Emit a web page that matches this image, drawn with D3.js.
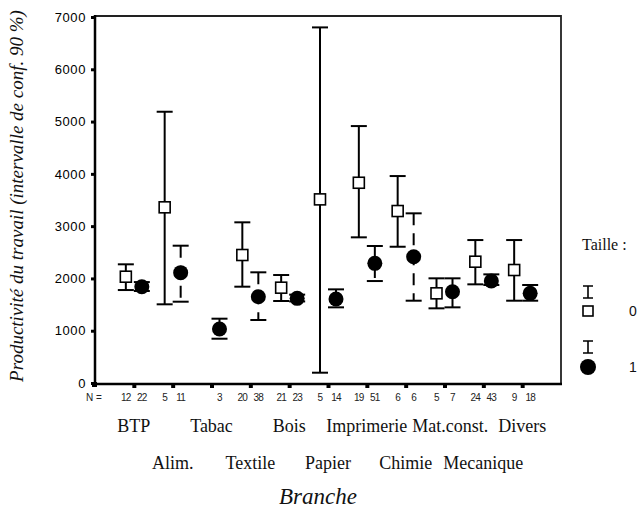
<!DOCTYPE html>
<html>
<head>
<meta charset="utf-8">
<script src="https://cdn.jsdelivr.net/npm/d3@7"></script>
<style>
    body { margin: 0; background: #fff; }
    svg { display: block; }
</style>
</head>
<body>
<div id="chart"></div>
<script>
// categories (branches) in axis order
const categories = ["BTP", "Alim.", "Tabac", "Textile", "Bois", "Papier",
    "Imprimerie", "Chimie", "Mat.const.", "Mecanique", "Divers"];

// Taille = 0 (squares) : mean and 90% CI
const mean0 = [2033, 3360, null, 2448, 1823, 3512, 3830, 3289, 1715, 2320, 2161];
const low0 = [1778, 1505, null, 1842, 1568, 197, 2786, 2606, 1428, 1887, 1574];
const high0 = [2270, 5188, null, 3073, 2065, 6801, 4914, 3958, 2002, 2734, 2734];
const n0 = [12, 5, null, 20, 21, 5, 19, 6, 5, 24, 9];

// Taille = 1 (filled circles)
const mean1 = [1842, 2110, 1033, 1650, 1619, 1606, 2288, 2415, 1746, 1950, 1715];
const low1 = [1760, 1555, 847, 1205, 1560, 1447, 1950, 1574, 1447, 1874, 1574];
const high1 = [1930, 2626, 1230, 2117, 1690, 1791, 2620, 3245, 2002, 2078, 1874];
const n1 = [22, 11, 3, 38, 23, 14, 51, 6, 7, 43, 18];

const yTicks = [0, 1000, 2000, 3000, 4000, 5000, 6000, 7000];
const groupLabels = ["0", "1"];

const width = 637, height = 514;
const plot = { left: 95, right: 561, top: 17, bottom: 383 };
const serif = "'Liberation Serif', 'Times New Roman', serif";
const sans = "'Liberation Sans', Arial, sans-serif";

const svg = d3.select("#chart").append("svg")
    .attr("width", width)
    .attr("height", height);

const x = d3.scalePoint()
    .domain(categories)
    .range([plot.left, plot.right])
    .padding(1);

const y = d3.scaleLinear()
    .domain([0, 7000])
    .range([plot.bottom, plot.top]);

const offset = [-8, 8];

// build rows for each group
function rows(g, mean, low, high, n) {
    return categories.map((c, i) => ({
        cat: c, g: g, mean: mean[i], low: low[i], high: high[i], n: n[i]
    })).filter(d => d.mean != null);
}
const groups = [
    rows(0, mean0, low0, high0, n0),
    rows(1, mean1, low1, high1, n1)
];

// frame: top and right border
svg.append("path")
    .attr("d", `M${plot.left},${plot.top - 1}H${plot.right}V${plot.bottom + 1}`)
    .attr("fill", "none")
    .attr("stroke", "#222")
    .attr("stroke-width", 1.8);

// y axis
const yAxis = svg.append("g")
    .attr("transform", `translate(${plot.left},0)`)
    .call(d3.axisLeft(y).tickValues(yTicks).tickSize(4).tickPadding(5)
        .tickFormat(d3.format("d")));
yAxis.select(".domain").remove();
yAxis.selectAll(".tick line").attr("stroke", "#000").attr("stroke-width", 3);
yAxis.selectAll(".tick text")
    .attr("font-family", sans)
    .attr("font-size", 13)
    .attr("letter-spacing", 0.6)
    .attr("fill", "#000");

// x axis
const xAxis = svg.append("g")
    .attr("transform", `translate(0,${plot.bottom})`)
    .call(d3.axisBottom(x).tickSize(4).tickFormat(""));
xAxis.select(".domain").remove();
xAxis.selectAll(".tick line").attr("stroke", "#000").attr("stroke-width", 4)
    .attr("y1", 1).attr("y2", 5);

// axis lines
svg.append("path")
    .attr("d", `M${plot.left},${plot.top - 2}V${plot.bottom + 1}H${plot.right + 1}`)
    .attr("fill", "none")
    .attr("stroke", "#000")
    .attr("stroke-width", 2.5);
svg.append("rect")
    .attr("x", plot.left - 3).attr("y", plot.bottom - 1)
    .attr("width", 5).attr("height", 5)
    .attr("fill", "#000");

// error bars
groups.forEach(function (data, g) {
    const gx = d => x(d.cat) + offset[g];
    const bars = svg.append("g").attr("class", "bars-" + g);
    bars.selectAll("line.stem")
        .data(data)
        .enter()
        .append("line")
        .attr("class", "stem")
        .attr("x1", gx).attr("x2", gx)
        .attr("y1", d => y(d.high)).attr("y2", d => y(d.low))
        .attr("stroke", "#000")
        .attr("stroke-width", 2)
        .attr("stroke-dasharray", g == 1 ? "12,8" : null);
    ["high", "low"].forEach(function (k) {
        bars.selectAll("line.cap-" + k)
            .data(data)
            .enter()
            .append("line")
            .attr("class", "cap-" + k)
            .attr("x1", d => gx(d) - 8).attr("x2", d => gx(d) + 8)
            .attr("y1", d => y(d[k])).attr("y2", d => y(d[k]))
            .attr("stroke", "#000")
            .attr("stroke-width", 2);
    });
});

// markers
svg.append("g").selectAll("rect")
    .data(groups[0])
    .enter()
    .append("rect")
    .attr("x", d => x(d.cat) + offset[0] - 5.5)
    .attr("y", d => y(d.mean) - 5.5)
    .attr("width", 11).attr("height", 11)
    .attr("fill", "#fff")
    .attr("stroke", "#000")
    .attr("stroke-width", 1.6);

svg.append("g").selectAll("circle")
    .data(groups[1])
    .enter()
    .append("circle")
    .attr("cx", d => x(d.cat) + offset[1])
    .attr("cy", d => y(d.mean))
    .attr("r", 7.5)
    .attr("fill", "#000");

// N = row
svg.append("text")
    .attr("x", 86).attr("y", 401)
    .attr("font-family", sans).attr("font-size", 10)
    .attr("fill", "#222")
    .text("N =");
groups.forEach(function (data, g) {
    svg.append("g").selectAll("text")
        .data(data)
        .enter()
        .append("text")
        .attr("x", d => x(d.cat) + offset[g])
        .attr("y", 401)
        .attr("text-anchor", "middle")
        .attr("font-family", sans)
        .attr("font-size", 10)
        .attr("letter-spacing", -0.8)
        .attr("fill", "#222")
        .text(d => d.n);
});

// category labels on two staggered rows
const catLabels = svg.append("g").selectAll("text")
    .data(categories)
    .enter()
    .append("text")
    .attr("x", d => x(d))
    .attr("y", (d, i) => i % 2 == 0 ? 432 : 469)
    .attr("text-anchor", "middle")
    .attr("font-family", serif)
    .attr("font-size", 18)
    .attr("fill", "#111")
    .text(d => d);

// push labels of the same row apart so they do not run into each other
[0, 1].forEach(function (row) {
    let lastRight = -Infinity;
    catLabels.filter((d, i) => i % 2 == row).each(function (d) {
        const w = this.getComputedTextLength();
        let cx = x(d);
        if (cx - w / 2 < lastRight + 5) cx = lastRight + 5 + w / 2;
        d3.select(this).attr("x", cx);
        lastRight = cx + w / 2;
    });
});

// axis titles
svg.append("text")
    .attr("x", 318).attr("y", 504)
    .attr("text-anchor", "middle")
    .attr("font-family", serif)
    .attr("font-style", "italic")
    .attr("font-size", 23)
    .attr("fill", "#111")
    .text("Branche");

svg.append("text")
    .attr("transform", "translate(23,196) rotate(-90)")
    .attr("text-anchor", "middle")
    .attr("font-family", serif)
    .attr("font-style", "italic")
    .attr("font-size", 19)
    .attr("fill", "#111")
    .text("Productivité du travail (intervalle de conf. 90 %)");

// legend
const legend = svg.append("g");
legend.append("text")
    .attr("x", 582).attr("y", 250)
    .attr("font-family", serif)
    .attr("font-size", 16)
    .attr("fill", "#111")
    .text("Taille :");

const legendY = [[292, 311], [347, 367]];
groupLabels.forEach(function (lab, g) {
    const lx = 588, by = legendY[g][0], my = legendY[g][1];
    legend.append("path")
        .attr("d", `M${lx - 5},${by - 6}H${lx + 5}M${lx},${by - 6}V${by + 6}M${lx - 5},${by + 6}H${lx + 5}`)
        .attr("fill", "none")
        .attr("stroke", "#000")
        .attr("stroke-width", 1.6);
    if (g == 0) {
        legend.append("rect")
            .attr("x", lx - 5).attr("y", my - 5)
            .attr("width", 10).attr("height", 10)
            .attr("fill", "#fff").attr("stroke", "#000").attr("stroke-width", 1.6);
    } else {
        legend.append("circle")
            .attr("cx", lx).attr("cy", my).attr("r", 8)
            .attr("fill", "#000");
    }
    legend.append("text")
        .attr("x", 629).attr("y", my + 5)
        .attr("font-family", sans)
        .attr("font-size", 14)
        .attr("fill", "#111")
        .text(lab);
});
</script>
</body>
</html>
